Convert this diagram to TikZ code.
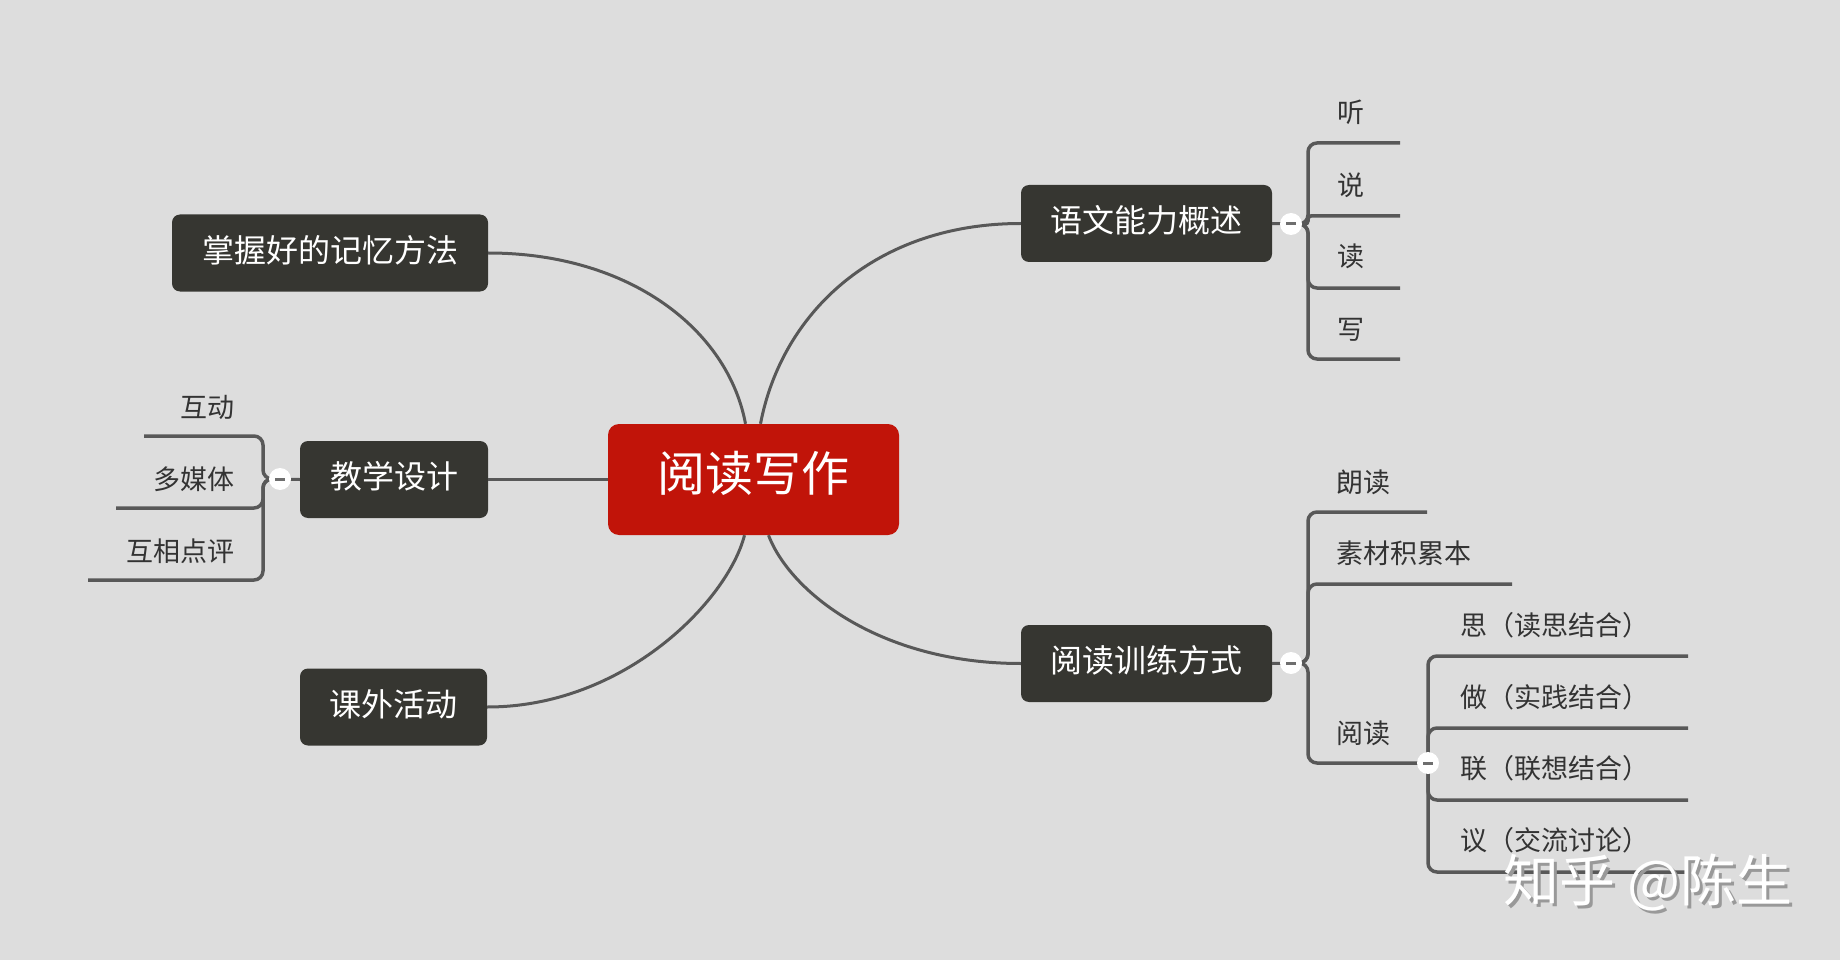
\documentclass[tikz,border=0pt]{standalone}
\usepackage{fontspec}
\setmainfont{Noto Sans CJK SC}
\definecolor{bgc}{RGB}{221,221,221}
\definecolor{topicbg}{RGB}{54,54,49}
\definecolor{centralbg}{RGB}{193,20,9}
\definecolor{edgec}{RGB}{88,88,88}
\definecolor{txtc}{RGB}{51,51,51}
\definecolor{foldc}{RGB}{110,110,110}
\tikzset{
  centralbox/.style={fill=centralbg, rounded corners=11pt, text=white, font=\fontsize{48}{56}\selectfont, minimum width=291pt, minimum height=111pt, inner sep=0pt, text height=34pt, text depth=9.6pt},
  topicbox/.style={fill=topicbg, rounded corners=8pt, text=white, font=\fontsize{32}{38}\selectfont, minimum height=77pt, inner sep=0pt, text height=24pt, text depth=5.6pt},
  subtext/.style={text=txtc, font=\fontsize{27}{32}\selectfont, inner sep=0pt, text height=22pt, text depth=2pt},
  conn/.style={draw=edgec, line width=3pt},
  brk/.style={draw=edgec, line width=3.5pt, rounded corners=9pt},
  foldbtn/.style={circle, fill=white, minimum size=22pt, inner sep=0pt,
    path picture={\draw[foldc, line width=3pt] ([xshift=-5pt]path picture bounding box.center) -- ([xshift=5pt]path picture bounding box.center);}},
  wmark/.style={font=\fontsize{56}{64}\selectfont, inner sep=0pt, anchor=west}
}
\begin{document}
\begin{tikzpicture}[x=1pt,y=-1pt]
\fill[bgc] (0,0) rectangle (1840,960);
\useasboundingbox (0,0) rectangle (1840,960);

% main nodes
\node[centralbox] (C) at (753.5,479.5) {阅读写作};
\node[topicbox, minimum width=316pt] (T1) at (330,253) {掌握好的记忆方法};
\node[topicbox, minimum width=188pt] (T2) at (394,479.5) {教学设计};
\node[topicbox, minimum width=187pt] (T3) at (393.5,707) {课外活动};
\node[topicbox, minimum width=251pt] (T4) at (1146.5,223.5) {语文能力概述};
\node[topicbox, minimum width=251pt] (T5) at (1146.5,663.5) {阅读训练方式};

% anchor points on the central box
\coordinate (c1) at ([xshift=-8pt]C.north);
\coordinate (c4) at ([xshift=7pt]C.north);
\coordinate (c3) at ([xshift=-9pt]C.south);
\coordinate (c5) at ([xshift=15pt]C.south);

% curved connectors
\draw[conn] (T1.east) .. controls (630,253) and (728,330) .. (c1);
\draw[conn] (T4.west) .. controls (876,223.5) and (782,312) .. (c4);
\draw[conn] (T3.east) .. controls (625,707) and (728,600) .. (c3);
\draw[conn] (T5.west) .. controls (880,663.5) and (790,592) .. (c5);
\draw[conn] (T2.east) -- (C.west);

% fold points and junctions
\coordinate (f2) at (280,479);
\coordinate (j2) at (263,479);
\coordinate (f4) at (1291,224);
\coordinate (j4) at (1308,224);
\coordinate (f5) at (1291,663);
\coordinate (j5) at (1308,663);
\coordinate (f6) at (1428,763);

% line ends
\coordinate (a1) at (144,436);
\coordinate (a2) at (116,508);
\coordinate (a3) at (88,580);
\coordinate (b1) at (1400,143);
\coordinate (b2) at (1400,216);
\coordinate (b3) at (1400,288);
\coordinate (b4) at (1400,359);
\coordinate (d1) at (1427,512);
\coordinate (d2) at (1512,584);
\coordinate (e1) at (1688,656);
\coordinate (e2) at (1688,728);
\coordinate (e3) at (1688,800);
\coordinate (e4) at (1688,872);

% topic to fold
\draw[conn] (T2.west) -- (f2);
\draw[conn] (T4.east) -- (f4);
\draw[conn] (T5.east) -- (f5);

% brackets
\draw[brk] (f2) -- (j2) |- (a1);
\draw[brk] (f2) -- (j2) |- (a2);
\draw[brk] (f2) -- (j2) |- (a3);

\draw[brk] (f4) -- (j4) |- (b1);
\draw[brk, rounded corners=3pt] (f4) -- (j4) |- (b2);
\draw[brk] (f4) -- (j4) |- (b3);
\draw[brk] (f4) -- (j4) |- (b4);

\draw[brk] (f5) -- (j5) |- (d1);
\draw[brk] (f5) -- (j5) |- (d2);
\draw[brk] (f5) -- (j5) |- (f6);

\draw[brk] (f6) |- (e1);
\draw[brk] (f6) |- (e2);
\draw[brk] (f6) |- (e3);
\draw[brk] (f6) |- (e4);

% fold buttons
\node[foldbtn] (F2) at (f2) {};
\node[foldbtn] (F4) at (f4) {};
\node[foldbtn] (F5) at (f5) {};
\node[foldbtn] (F6) at (f6) {};

% child texts
\node[subtext, anchor=east] (s1) at (235,407) {互动};
\node[subtext, anchor=east] (s2) at (235,479) {多媒体};
\node[subtext, anchor=east] (s3) at (235,551) {互相点评};

\node[subtext, anchor=west] (r1) at (1337,113) {听};
\node[subtext, anchor=west] (r2) at (1337,186) {说};
\node[subtext, anchor=west] (r3) at (1337,257) {读};
\node[subtext, anchor=west] (r4) at (1337,329) {写};

\node[subtext, anchor=west] (q1) at (1336,482) {朗读};
\node[subtext, anchor=west] (q2) at (1336,553) {素材积累本};
\node[subtext, anchor=west] (q3) at (1336,733) {阅读};

\node[subtext, anchor=west] (p1) at (1460,625) {思（读思结合）};
\node[subtext, anchor=west] (p2) at (1460,697) {做（实践结合）};
\node[subtext, anchor=west] (p3) at (1460,768) {联（联想结合）};
\node[subtext, anchor=west] (p4) at (1460,840) {议（交流讨论）};

% watermark
\node[wmark, text=black!40] (wm2) at (1506,886) {知乎 @陈生};
\node[wmark, text=white] (wm) at (1503,883) {知乎 @陈生};
\end{tikzpicture}
\end{document}
